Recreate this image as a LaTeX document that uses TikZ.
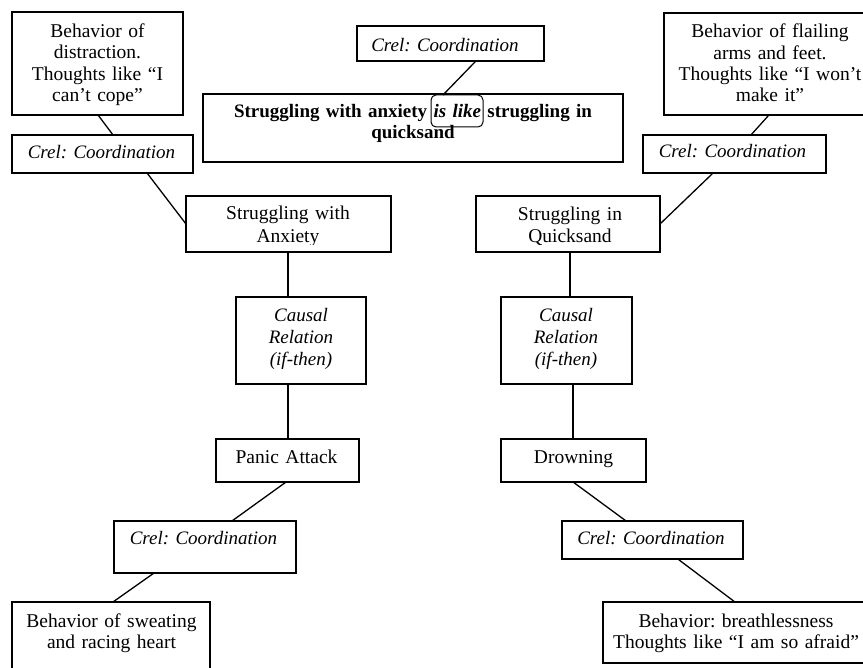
\documentclass[tikz,border=0pt]{standalone}
\usepackage{fontspec}
\setmainfont{Liberation Serif}
\usetikzlibrary{calc}
\frenchspacing

\tikzset{
  box/.style={draw, rectangle, line width=1.3pt, inner sep=0pt, outer sep=0pt},
  likebox/.style={draw, rectangle, rounded corners=5pt, line width=1pt, inner sep=0pt, outer sep=0pt},
  plain/.style={anchor=base, inner sep=0pt, align=center, text width=270pt,
    font={\fontsize{19.5}{21.3}\selectfont}},
  rel/.style={plain, font={\fontsize{19}{22}\selectfont\itshape}},
  head/.style={plain, text width=440pt, font={\fontsize{19}{21}\selectfont\bfseries}},
  link/.style={line width=1.3pt}
}

\begin{document}
\begin{tikzpicture}[x=1pt, y=-1pt]
  \useasboundingbox (0,0) rectangle (863,668);
  \fill[white] (0,0) rectangle (863,668);
  \clip (0,0) rectangle (863,668);

  % frames
  \node[box, minimum width=171pt, minimum height=103pt] (A) at (97.5,63.5) {};
  \node[box, minimum width=181pt, minimum height=38pt]  (B) at (102.5,154) {};
  \node[box, minimum width=187pt, minimum height=35pt]  (C) at (450.5,43.5) {};
  \node[box, minimum width=420pt, minimum height=68pt]  (D) at (413,128) {};
  \node[box, minimum width=212pt, minimum height=102pt] (F) at (770,64) {};
  \node[box, minimum width=183pt, minimum height=38pt]  (G) at (734.5,154) {};
  \node[box, minimum width=205pt, minimum height=56pt]  (H) at (288.5,224) {};
  \node[box, minimum width=184pt, minimum height=56pt]  (I) at (568,224) {};
  \node[box, minimum width=130pt, minimum height=87pt]  (J) at (301,340.5) {};
  \node[box, minimum width=131pt, minimum height=87pt]  (K) at (566.5,340.5) {};
  \node[box, minimum width=143pt, minimum height=43pt]  (L) at (287.5,460.5) {};
  \node[box, minimum width=145pt, minimum height=43pt]  (M) at (573.5,460.5) {};
  \node[box, minimum width=182pt, minimum height=52pt]  (N) at (205,547) {};
  \node[box, minimum width=198pt, minimum height=88pt]  (O) at (111,646) {};
  \node[box, minimum width=181pt, minimum height=38pt]  (P) at (652.5,540) {};
  \node[box, minimum width=267pt, minimum height=61pt]  (Q) at (736.5,632.5) {};

  % texts
  \node[plain] (At) at (97.5,37.7) {Behavior of\\distraction.\\Thoughts like “I\\can’t cope”};
  \node[rel]   (Bt) at (101.5,159) {Crel: Coordination};
  \node[rel]   (Ct) at (445,51.7) {Crel: Coordination};
  \node[head]  (Dt) at (413,118) {Struggling with anxiety \textit{is like} struggling in\\quicksand};
  \node[likebox, minimum width=52pt, minimum height=32pt] (E) at (457,111) {};
  \node[plain] (Ft) at (770,38) {Behavior of flailing\\arms and feet.\\Thoughts like “I won’t\\make it”};
  \node[rel]   (Gt) at (732.5,157.5) {Crel: Coordination};
  \begin{scope}
    \clip (186,196) rectangle (660,244.5);
    \node[plain, font={\fontsize{19.5}{23}\selectfont}] (Ht) at (288,220) {Struggling with\\Anxiety};
    \node[plain, font={\fontsize{19.5}{22}\selectfont}] (It) at (570,221) {Struggling in\\Quicksand};
  \end{scope}
  \node[rel]   (Jt) at (301,321.7) {Causal\\Relation\\(if-then)};
  \node[rel]   (Kt) at (566,321.7) {Causal\\Relation\\(if-then)};
  \node[plain] (Lt) at (286.5,463.3) {Panic Attack};
  \node[plain] (Mt) at (573.5,463.3) {Drowning};
  \node[rel]   (Nt) at (203.5,544.3) {Crel: Coordination};
  \node[plain] (Ot) at (111.5,627.3) {Behavior of sweating\\and racing heart};
  \node[rel]   (Pt) at (651,544) {Crel: Coordination};
  \node[plain] (Qt) at (736,627.3) {Behavior: breathlessness\\Thoughts like “I am so afraid”};

  % connectors
  \draw[link] ($(A.south west)!0.503!(A.south east)$) -- ($(B.north west)!0.558!(B.north east)$);
  \draw[link] ($(B.south west)!0.746!(B.south east)$) -- (H.west);
  \draw[link] ($(C.south west)!0.636!(C.south east)$) -- ($(E.north west)!0.23!(E.north east)$);
  \draw[link] ($(F.south west)!0.495!(F.south east)$) -- ($(G.north west)!0.59!(G.north east)$);
  \draw[link] ($(G.south west)!0.383!(G.south east)$) -- (I.east);
  % vertical chains (x = 288 left, 570 / 573 right)
  \coordinate (jtop) at ($(J.north west)!0.4!(J.north east)$);
  \draw[link] (jtop) -- (jtop |- H.south);
  \coordinate (jbot) at ($(J.south west)!0.4!(J.south east)$);
  \draw[link] (jbot) -- (jbot |- L.north);
  \coordinate (ibot) at ($(I.south west)!0.5!(I.south east)$);
  \draw[link] ([xshift=2pt]ibot) -- ([xshift=2pt]ibot |- K.north);
  \coordinate (mtop) at ($(M.north west)!0.497!(M.north east)$);
  \draw[link] (mtop) -- (mtop |- K.south);
  \draw[link] ($(L.south west)!0.49!(L.south east)$) -- ($(N.north west)!0.648!(N.north east)$);
  \draw[link] ($(N.south west)!0.22!(N.south east)$) -- ($(O.north west)!0.51!(O.north east)$);
  \draw[link] ($(M.south west)!0.497!(M.south east)$) -- ($(P.north west)!0.354!(P.north east)$);
  \draw[link] ($(P.south west)!0.64!(P.south east)$) -- ($(Q.north west)!0.494!(Q.north east)$);
\end{tikzpicture}
\end{document}
